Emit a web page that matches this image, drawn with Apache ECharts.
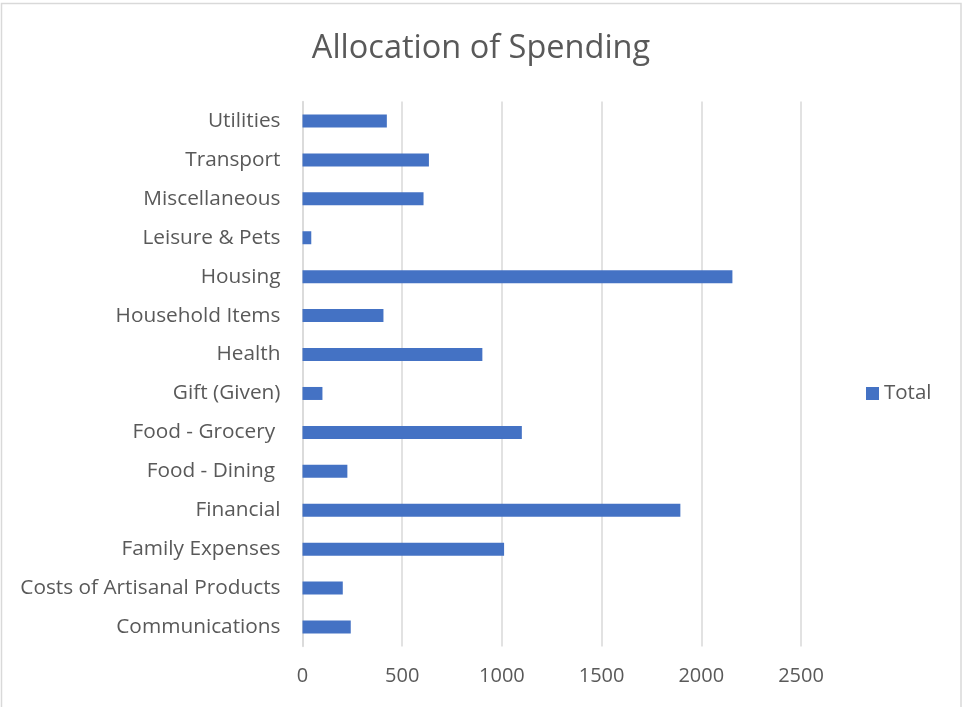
<!DOCTYPE html>
<html>
<head>
<meta charset="utf-8">
<script src="https://cdn.jsdelivr.net/npm/echarts@6/dist/echarts.min.js"></script>
<style>
  html, body { margin: 0; padding: 0; background: #fff; }
  #chart { width: 962px; height: 707px; }
</style>
</head>
<body>
<div id="chart"></div>
<script>
// Spending categories, listed bottom to top as drawn on the category axis
const categories = [
  'Communications',
  'Costs of Artisanal Products',
  'Family Expenses',
  'Financial',
  'Food - Dining ',
  'Food - Grocery ',
  'Gift (Given)',
  'Health',
  'Household Items',
  'Housing',
  'Leisure & Pets',
  'Miscellaneous',
  'Transport',
  'Utilities'
];

// Total spent per category
const totals = [242, 202, 1011, 1895, 225, 1100, 100, 902, 406, 2156, 44, 607, 634, 423];

// Value axis ticks
const valueTicks = { min: 0, max: 2500, interval: 500 };

const seriesName = 'Total';
const textColor = '#595959';
const gridColor = '#d9d9d9';
const barColor = '#4472c4';
const fontFamily = '"Open Sans", "Noto Sans", sans-serif';

const chart = echarts.init(document.getElementById('chart'), null, { renderer: 'canvas' });

chart.setOption({
  animation: false,
  backgroundColor: '#ffffff',
  title: {
    text: 'Allocation of Spending',
    left: 'center',
    top: 32,
    padding: 0,
    textStyle: { color: textColor, fontFamily: fontFamily, fontWeight: 'normal', fontSize: 32.5 }
  },
  legend: {
    data: [seriesName],
    left: 866,
    top: 383,
    padding: 0,
    orient: 'vertical',
    icon: 'rect',
    itemWidth: 13,
    itemHeight: 13,
    itemGap: 7,
    textStyle: { color: textColor, fontFamily: fontFamily, fontSize: 20.5 }
  },
  grid: {
    left: 302.5,
    right: 161,
    top: 101.5,
    bottom: 60.5,
    containLabel: false
  },
  xAxis: {
    type: 'value',
    min: valueTicks.min,
    max: valueTicks.max,
    interval: valueTicks.interval,
    axisLine: { show: false },
    axisTick: { show: false },
    axisLabel: {
      color: textColor, fontFamily: fontFamily, fontSize: 20, margin: 20,
      formatter: (v) => String(v)
    },
    splitLine: { show: true, lineStyle: { color: gridColor, width: 1.5 } }
  },
  yAxis: {
    type: 'category',
    data: categories,
    axisLine: { show: true, lineStyle: { color: gridColor, width: 1.5 } },
    axisTick: { show: false },
    axisLabel: { color: textColor, fontFamily: fontFamily, fontSize: 20.8, margin: 22, padding: [3, 0, 0, 0] }
  },
  series: [{
    name: seriesName,
    type: 'bar',
    data: totals,
    barWidth: 13,
    itemStyle: { color: barColor }
  }],
  graphic: [{
    type: 'rect',
    silent: true,
    shape: { x: 1.5, y: 3.5, width: 959.5, height: 710 },
    style: { fill: 'none', stroke: gridColor, lineWidth: 1.5 }
  }]
});
</script>
</body>
</html>
